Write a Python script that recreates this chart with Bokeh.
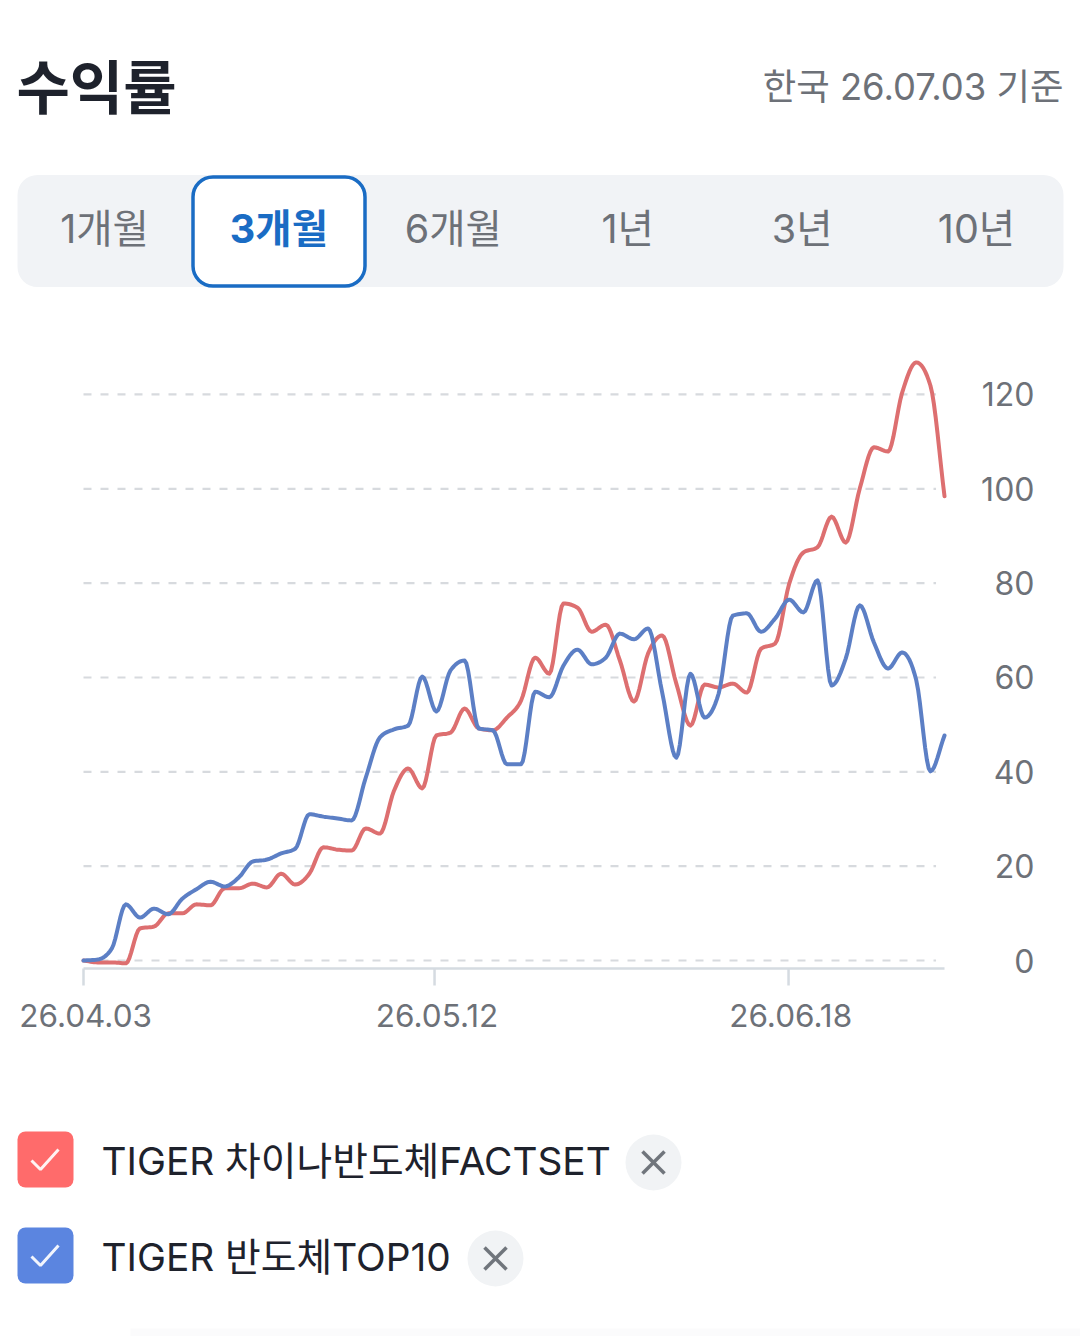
import numpy as np
from bokeh.embed import file_html
from bokeh.models import BoxAnnotation, FixedTicker, Label, LinearAxis, Range1d
from bokeh.plotting import figure
from bokeh.resources import INLINE

title = "수익률"
as_of = "한국 26.07.03 기준"
tabs = ["1개월", "3개월", "6개월", "1년", "3년", "10년"]
active_tab = "3개월"
series_names = ["TIGER 차이나반도체FACTSET", "TIGER 반도체TOP10"]

china_semi = [0.0, -0.4, -0.4, -0.6, 6.8, 7.2, 10.0, 10.0, 11.9, 11.7, 15.3, 15.3, 16.3, 15.5, 18.4, 16.1,
              18.4, 24.0, 23.5, 23.3, 28.0, 26.9, 36.0, 40.7, 36.5, 47.7, 48.3, 53.4, 49.2, 48.8, 51.5, 55.1,
              64.2, 60.8, 75.7, 74.8, 69.7, 71.2, 63.6, 54.9, 65.1, 68.9, 58.7, 49.8, 58.5, 57.9, 58.7, 56.8,
              66.1, 67.2, 79.9, 86.5, 87.6, 94.1, 88.6, 100.1, 108.8, 107.9, 120.4, 126.8, 121.9, 98.4]
semi_top10 = [0.0, 0.2, 2.5, 11.9, 9.1, 11.0, 9.8, 13.1, 15.1, 16.7, 15.7, 17.6, 21.0, 21.4, 22.7, 23.7,
              31.0, 30.5, 30.1, 29.7, 38.8, 47.3, 49.0, 49.8, 60.2, 52.8, 61.5, 63.6, 49.2, 48.8, 41.6, 41.6,
              57.0, 55.8, 62.5, 65.9, 62.8, 64.2, 69.3, 68.1, 70.4, 56.8, 43.0, 60.8, 51.5, 56.6, 73.1, 73.6,
              69.7, 72.5, 76.5, 73.8, 80.6, 58.3, 64.0, 75.3, 67.4, 61.9, 65.3, 59.4, 40.1, 47.7]

y_ticks = [0, 20, 40, 60, 80, 100, 120]
x_tick_labels = ["26.04.03", "26.05.12", "26.06.18"]
x_tick_pos = [0, 24.87, 49.95]
x_label_pos = [0.15, 25.05, 50.1]

FONT = "Inter, 'Noto Sans CJK KR'"
RED, BLUE = "#dd6f70", "#5c7fc5"
RED_BOX, BLUE_BOX = "#ff6b6b", "#5b85e0"
GREY = "#6d7178"
DARK = "#1e222c"
AXIS = "#d5dbe1"


def smooth(ys, per=8):
    """Monotone cubic drawing path through the read points (flat runs stay flat)."""
    pts = np.asarray(ys, float)
    d = np.diff(pts)
    m = np.zeros_like(pts)
    for i in range(1, len(pts) - 1):
        m[i] = (np.sign(d[i - 1]) + np.sign(d[i])) * min(abs(d[i - 1]), abs(d[i]), 0.25 * abs(d[i - 1] + d[i]))
    m[0], m[-1] = d[0], d[-1]
    xs, out = [], []
    for i in range(len(pts) - 1):
        for t in np.linspace(0, 1, per, endpoint=False):
            h = [2*t**3 - 3*t**2 + 1, t**3 - 2*t**2 + t, -2*t**3 + 3*t**2, t**3 - t**2]
            out.append(h[0]*pts[i] + h[1]*m[i] + h[2]*pts[i + 1] + h[3]*m[i + 1])
            xs.append(i + t)
    xs.append(len(pts) - 1)
    out.append(pts[-1])
    return xs, out


# The frame fills the page; the plotted scale puts index 0 at x=83 and value 0 at y=960.
p = figure(width=1080, height=1336, output_backend="svg", toolbar_location=None,
           x_range=Range1d(-5.880, 70.634), y_range=Range1d(-79.71, 203.52),
           min_border=0, outline_line_color=None, x_axis_location=None, y_axis_location=None,
           background_fill_color="#ffffff")
p.grid.visible = False
p.extra_x_ranges["px"] = Range1d(0, 1080)
p.extra_y_ranges["px"] = Range1d(1336, 0)
PX = dict(x_range_name="px", y_range_name="px")


def label(x, y, text, size, color, align="left", bold=False):
    p.add_layout(Label(x=x, y=y, text=text, text_font=FONT, text_font_size=f"{size}px",
                       text_color=color, text_align=align, text_baseline="middle",
                       text_font_style="bold" if bold else "normal", **PX))


def box(left, right, top, bottom, fill, radius, line=None, lw=1):
    p.add_layout(BoxAnnotation(left=left, right=right, top=top, bottom=bottom, fill_color=fill,
                               fill_alpha=1, line_color=line, line_alpha=1, line_width=lw,
                               border_radius=radius, level="underlay", **PX))


# ---- header ----
label(16, 87, title, 58, DARK, bold=True)
label(1063, 86, as_of, 36.4, GREY, align="right")
box(17, 1063, 174.5, 286.5, "#f1f3f6", 20)
box(192.5, 364.5, 176.5, 285.5, "#ffffff", 20, "#1a6cc4", 3.5)
for i, t in enumerate(tabs):
    on = t == active_tab
    label(104 + 174.4 * i, 228.5, t, 39.5, "#1a6cc4" if on else GREY, align="center", bold=on)

# ---- chart ----
p.segment(x0=[0] * len(y_ticks), x1=[60.4] * len(y_ticks), y0=y_ticks, y1=y_ticks,
          line_color="#d7dade", line_width=2.2, line_dash="8 9")
p.segment(x0=[0], x1=[61], y0=[-1.696], y1=[-1.696], line_color=AXIS, line_width=2.5)
p.segment(x0=x_tick_pos, x1=x_tick_pos, y0=[-1.696] * 3, y1=[-5.3] * 3, line_color=AXIS, line_width=2.5)
x, y = smooth(china_semi)
p.line(x, y, line_color=RED, line_width=4, line_join="round", line_cap="round")
x, y = smooth(semi_top10)
p.line(x, y, line_color=BLUE, line_width=4, line_join="round", line_cap="round")

xa = LinearAxis(ticker=FixedTicker(ticks=x_label_pos),
                major_label_overrides=dict(zip(x_label_pos, x_tick_labels)),
                axis_line_color=None, major_tick_line_color=None, minor_tick_line_color=None,
                major_tick_in=0, major_tick_out=0,
                major_label_standoff=-333, major_label_text_color=GREY,
                major_label_text_font=FONT, major_label_text_font_size="31.5px")
p.add_layout(xa, "below")
ya = LinearAxis(ticker=FixedTicker(ticks=y_ticks), axis_line_color=None,
                major_tick_line_color=None, minor_tick_line_color=None,
                major_tick_in=0, major_tick_out=0,
                major_label_standoff=-1034, major_label_text_color=GREY,
                major_label_text_font=FONT, major_label_text_font_size="32px")
p.add_layout(ya, "left")

# ---- legend ----
rows = [(1131, RED_BOX, 653), (1227, BLUE_BOX, 495)]
for name, (top, col, cx) in zip(series_names, rows):
    box(17, 73, top, top + 56, col, 8)
    p.line([31, 40, 58], [top + 29, top + 38, top + 18], line_color="#ffffff", line_width=3,
           line_alpha=0.92, **PX)
    label(101, top + 29, name, 38.8, DARK)
    cy = top + 31
    box(cx - 28, cx + 28, cy - 28, cy + 28, "#f1f3f5", 28)
    p.line([cx - 11, cx + 11], [cy - 11, cy + 11], line_color="#70757c", line_width=3.5, **PX)
    p.line([cx - 11, cx + 11], [cy + 11, cy - 11], line_color="#70757c", line_width=3.5, **PX)
box(130, 1080, 1328, 1336, "#fbfbfc", 0)

open("out.html", "w").write(file_html(p, INLINE))
